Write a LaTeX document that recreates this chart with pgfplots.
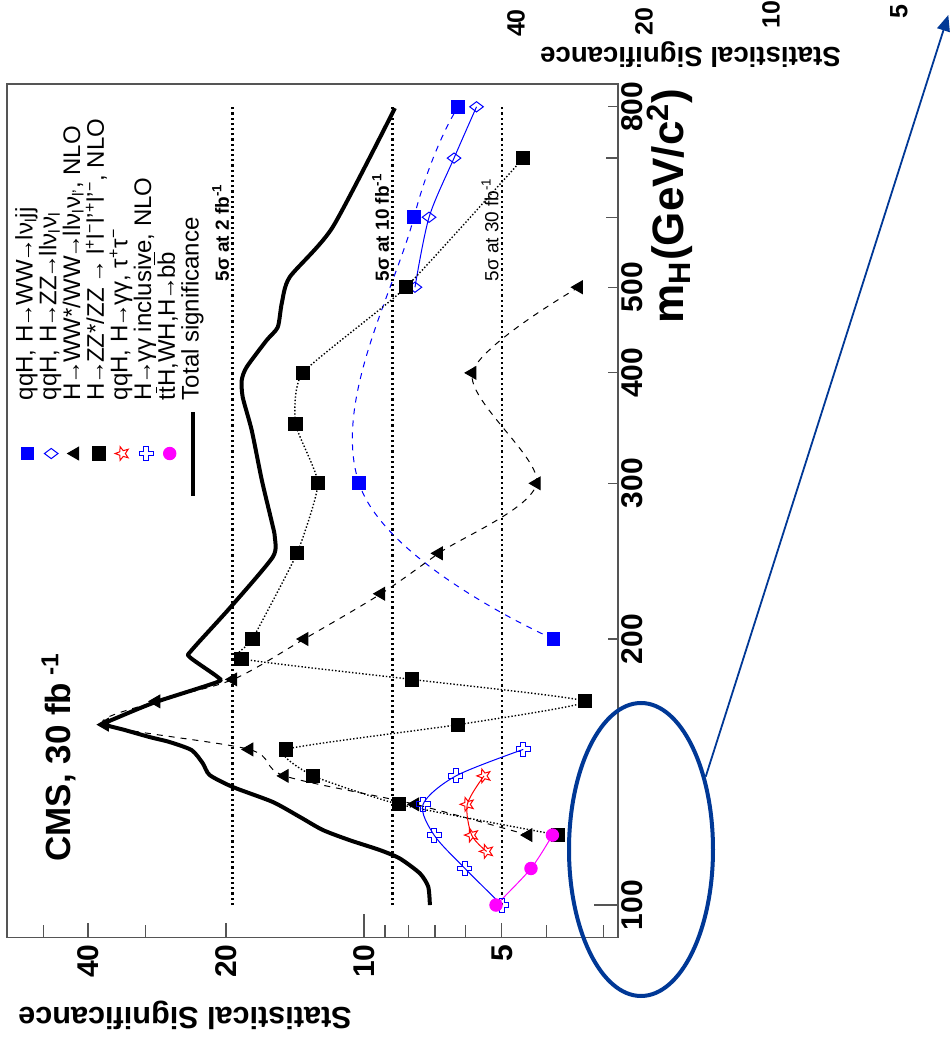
\documentclass[border=0pt]{standalone}
\usepackage{pgfplots}
\pgfplotsset{compat=1.18}
\usepackage{fontspec}
\setmainfont{Liberation Sans}
\usetikzlibrary{arrows.meta}
\definecolor{ellblue}{RGB}{0,56,150}
\definecolor{framegray}{RGB}{85,85,85}
\definecolor{mag}{RGB}{255,0,255}
\definecolor{pblue}{RGB}{0,0,255}
\definecolor{pred}{RGB}{255,0,0}
\newcommand{\ra}{\kern-1pt→\kern-1pt}

\pgfdeclareplotmark{ostar}{%
  \pgfpathmoveto{\pgfpointpolar{90}{\pgfplotmarksize}}%
  \pgfpathlineto{\pgfpointpolar{126}{0.42\pgfplotmarksize}}%
  \pgfpathlineto{\pgfpointpolar{162}{\pgfplotmarksize}}%
  \pgfpathlineto{\pgfpointpolar{198}{0.42\pgfplotmarksize}}%
  \pgfpathlineto{\pgfpointpolar{234}{\pgfplotmarksize}}%
  \pgfpathlineto{\pgfpointpolar{270}{0.42\pgfplotmarksize}}%
  \pgfpathlineto{\pgfpointpolar{306}{\pgfplotmarksize}}%
  \pgfpathlineto{\pgfpointpolar{342}{0.42\pgfplotmarksize}}%
  \pgfpathlineto{\pgfpointpolar{18}{\pgfplotmarksize}}%
  \pgfpathlineto{\pgfpointpolar{54}{0.42\pgfplotmarksize}}%
  \pgfpathclose
  \pgfusepathqstroke}

\pgfdeclareplotmark{ocross}{%
  \pgfpathmoveto{\pgfpoint{-0.35\pgfplotmarksize}{\pgfplotmarksize}}%
  \pgfpathlineto{\pgfpoint{0.35\pgfplotmarksize}{\pgfplotmarksize}}%
  \pgfpathlineto{\pgfpoint{0.35\pgfplotmarksize}{0.35\pgfplotmarksize}}%
  \pgfpathlineto{\pgfpoint{\pgfplotmarksize}{0.35\pgfplotmarksize}}%
  \pgfpathlineto{\pgfpoint{\pgfplotmarksize}{-0.35\pgfplotmarksize}}%
  \pgfpathlineto{\pgfpoint{0.35\pgfplotmarksize}{-0.35\pgfplotmarksize}}%
  \pgfpathlineto{\pgfpoint{0.35\pgfplotmarksize}{-\pgfplotmarksize}}%
  \pgfpathlineto{\pgfpoint{-0.35\pgfplotmarksize}{-\pgfplotmarksize}}%
  \pgfpathlineto{\pgfpoint{-0.35\pgfplotmarksize}{-0.35\pgfplotmarksize}}%
  \pgfpathlineto{\pgfpoint{-\pgfplotmarksize}{-0.35\pgfplotmarksize}}%
  \pgfpathlineto{\pgfpoint{-\pgfplotmarksize}{0.35\pgfplotmarksize}}%
  \pgfpathlineto{\pgfpoint{-0.35\pgfplotmarksize}{0.35\pgfplotmarksize}}%
  \pgfpathclose
  \pgfusepathqstroke}

\pgfplotsset{
  mlegend/.style={legend image code/.code={%
    \path[draw=none,fill=none] (0pt,-5.9pt) rectangle (42pt,5.9pt);
    \draw[##1,only marks] plot coordinates {(21pt,0pt)};}},
  llegend/.style={legend image code/.code={%
    \path[draw=none,fill=none] (0pt,-5.9pt) rectangle (42pt,5.9pt);
    \draw[##1] (0pt,0pt) -- (42pt,0pt);}},
}

\begin{document}
\begin{tikzpicture}
\useasboundingbox (0,0) rectangle (476pt,520.5pt);
\fill[white] (0,0) rectangle (476pt,520.5pt);
\begin{scope}[shift={(309pt,51.75pt)}, rotate=90, transform shape]
\begin{axis}[
  at={(0pt,0pt)}, anchor=south west,
  scale only axis, width=426.75pt, height=305.65pt,
  xmode=log, ymode=log,
  xmin=91.9, xmax=849, ymin=2.79, ymax=60.2,
  clip=false,
  axis line style={line width=0.9pt, framegray},
  xtick={100}, xticklabels={100},
  extra x ticks={200,300,400,500,800},
  extra x tick labels={200,300,400,500,800},
  extra x tick style={major tick length=5pt},
  minor xtick={600,700},
  ytick={10}, yticklabels={10},
  extra y ticks={5,20,40}, extra y tick labels={5,20,40},
  extra y tick style={major tick length=7.5pt},
  minor ytick={3,4,6,7,8,9,30,50},
  xtick pos=left, ytick pos=left,
  tick align=inside,
  major tick length=12pt, minor tick length=6pt,
  tick style={line width=0.6pt, framegray},
  ticklabel style={font=\bfseries\fontsize{15}{15}\selectfont, text=black},
  xticklabel style={yshift=2pt},
  legend style={at={(0.515,0.986)}, anchor=north west, draw=none, fill=none,
    inner sep=0pt, row sep=0pt, column sep=4.75pt,
    font=\fontsize{12}{12}\selectfont,
    nodes={inner sep=0pt, text height=8.5pt, text depth=3.35pt}},
  legend cell align=left,
]
% reference lines
\addplot[forget plot, line width=1.1pt, dash pattern=on 1.1pt off 1.5pt] coordinates {(100,19.36) (800,19.36)};
\addplot[forget plot, line width=1.1pt, dash pattern=on 1.1pt off 1.5pt] coordinates {(100,8.66) (800,8.66)};
\addplot[forget plot, line width=1.1pt, dash pattern=on 1.1pt off 1.5pt] coordinates {(100,5) (800,5)};

% qqH, H->WW->lvjj
\addplot[mlegend, pblue, line width=0.5pt, dashed, smooth, tension=0.7, mark=square*, mark size=3.2pt, mark options={solid, fill=pblue}]
  coordinates {(200,3.86) (300,10.25) (600,7.78) (800,6.23)};
\addlegendentry{qqH, H\ra WW\ra lν\textsubscript{l}jj}
% qqH, H->ZZ->llvv
\addplot[mlegend, pblue, line width=0.5pt, smooth, mark=diamond, mark size=3.4pt, mark options={solid, fill=white}]
  coordinates {(500,7.74) (600,7.21) (700,6.36) (800,5.68)};
\addlegendentry{qqH, H\ra ZZ\ra llν\textsubscript{l}ν\textsubscript{l}}
% H->WW->2l2v
\addplot[mlegend, black, line width=0.5pt, dashed, smooth, tension=0.5, mark=triangle*, mark size=3.6pt, mark options={solid}]
  coordinates {(120,4.38) (130,7.74) (140,14.9) (150,17.8) (160,36.8) (170,28.4) (180,19.3) (200,13.5) (225,9.18) (250,6.87) (300,4.20) (400,5.80) (500,3.40)};
\addlegendentry{H\ra WW*/WW\ra llν\textsubscript{l}ν\textsubscript{l'}, NLO}
% H->ZZ->4l
\addplot[mlegend, black, line width=0.7pt, densely dotted, smooth, tension=0.3, mark=square*, mark size=3.2pt, mark options={solid}]
  coordinates {(120,3.77) (130,8.38) (140,12.9) (150,14.8) (160,6.23) (170,3.29) (180,7.87) (190,18.5) (200,17.5) (250,14.0) (300,12.6) (350,14.1) (400,13.6) (500,8.10) (700,4.49)};
\addlegendentry{H\ra ZZ*/ZZ \ra\ l\textsuperscript{+}l\textsuperscript{−}l'\textsuperscript{+}l'\textsuperscript{−}, NLO}
% qqH gamma gamma, tau tau
\addplot[mlegend, pred, line width=0.5pt, smooth, mark=ostar, mark size=3.6pt, mark options={solid}]
  coordinates {(115,5.40) (120,5.82) (130,5.95) (140,5.47)};
\addlegendentry{qqH, H\ra γγ, τ\textsuperscript{+}τ\textsuperscript{−}}
% H->gamma gamma inclusive
\addplot[mlegend, pblue, line width=0.5pt, smooth, mark=ocross, mark size=3.5pt, mark options={solid}]
  coordinates {(100,5.0) (110,6.02) (120,7.03) (130,7.43) (140,6.30) (150,4.49)};
\addlegendentry{H\ra γγ inclusive, NLO}
% ttH, WH, H->bb
\addplot[mlegend, mag, line width=0.5pt, smooth, mark=*, mark size=3.1pt, mark options={solid}]
  coordinates {(100,5.15) (110,4.32) (120,3.88)};
\addlegendentry{t$\overline{\mbox{t}}$H,WH,H\ra b$\overline{\mbox{b}}$}
% Total significance
\addplot[llegend, black, line width=2pt, smooth, tension=0.4, line join=round]
  coordinates {(100,7.18) (104.9,7.24) (108.6,7.55) (112.9,8.35) (115.4,9.23) (118.4,10.74) (121.6,12.30) (125.8,13.80) (130.8,15.81) (136.0,19.33) (140.3,21.71) (144.7,22.48) (149.7,23.76) (152.9,26.54) (154.9,29.35) (157.8,33.28) (160.2,36.80) (163.2,34.29) (169.7,28.48) (178.7,20.95) (181.1,20.85) (190.8,24.0) (194.3,23.76) (217.4,19.53) (247.6,15.81) (260.8,15.65) (271.2,15.89) (302.6,16.71) (344.6,17.58) (375.5,18.39) (392.6,18.48) (406.1,18.03) (435.6,16.30) (450.6,15.42) (479.7,15.11) (513.4,14.52) (584.8,11.70) (797.3,8.56)};
\addlegendentry{Total significance}

% annotations
\node[anchor=south west, inner sep=1.5pt, font=\bfseries\fontsize{9.5}{9.5}\selectfont] at (axis cs:503,19.36) {5σ at 2 fb\textsuperscript{-1}};
\node[anchor=south west, inner sep=1.5pt, font=\bfseries\fontsize{9.5}{9.5}\selectfont] at (axis cs:503,8.66) {5σ at 10 fb\textsuperscript{-1}};
\node[anchor=south west, inner sep=1.5pt, font=\fontsize{9.5}{9.5}\selectfont] at (axis cs:503,5) {5σ at 30 fb\textsuperscript{-1}};
\node[anchor=base west, inner sep=0pt, font=\bfseries\fontsize{17.5}{17.5}\selectfont] at (rel axis cs:0.0885,0.895) {CMS, 30 fb\textsuperscript{ -1}};
% axis labels
\node[rotate=90, anchor=east, inner sep=0pt, font=\bfseries\fontsize{15.3}{15.3}\selectfont] at ([xshift=-38.75pt]rel axis cs:0,0.9815) {Statistical Significance};
\node[anchor=east, inner sep=0pt, font=\bfseries\fontsize{22}{22}\selectfont] at ([yshift=-26pt]rel axis cs:0.995,0) {m\textsubscript{H}(GeV/c\textsuperscript{2})};
\end{axis}
\end{scope}

% slide overlay (image pixel coordinates)
\begin{scope}[x=0.5pt, y=-0.5pt, yshift=520.5pt]
\draw[ellblue, line width=2pt] (641,849.5) ellipse [x radius=36pt, y radius=73.25pt];
\draw[ellblue, line width=0.9pt, -{Triangle[length=8pt,width=6.5pt]}] (705.7,776.7) -- (948.3,15);
\node[rotate=180, inner sep=0pt, font=\bfseries\fontsize{13.8}{13.8}\selectfont] at (690.5,55) {Statistical Significance};
\node[rotate=90, inner sep=0pt, font=\bfseries\fontsize{12.5}{12.5}\selectfont] at (516,23) {40};
\node[rotate=90, inner sep=0pt, font=\bfseries\fontsize{12.5}{12.5}\selectfont] at (644,22) {20};
\node[rotate=90, inner sep=0pt, font=\bfseries\fontsize{12.5}{12.5}\selectfont] at (771,15) {10};
\node[rotate=90, inner sep=0pt, font=\bfseries\fontsize{12.5}{12.5}\selectfont] at (899,12) {5};
\end{scope}
\end{tikzpicture}
\end{document}
